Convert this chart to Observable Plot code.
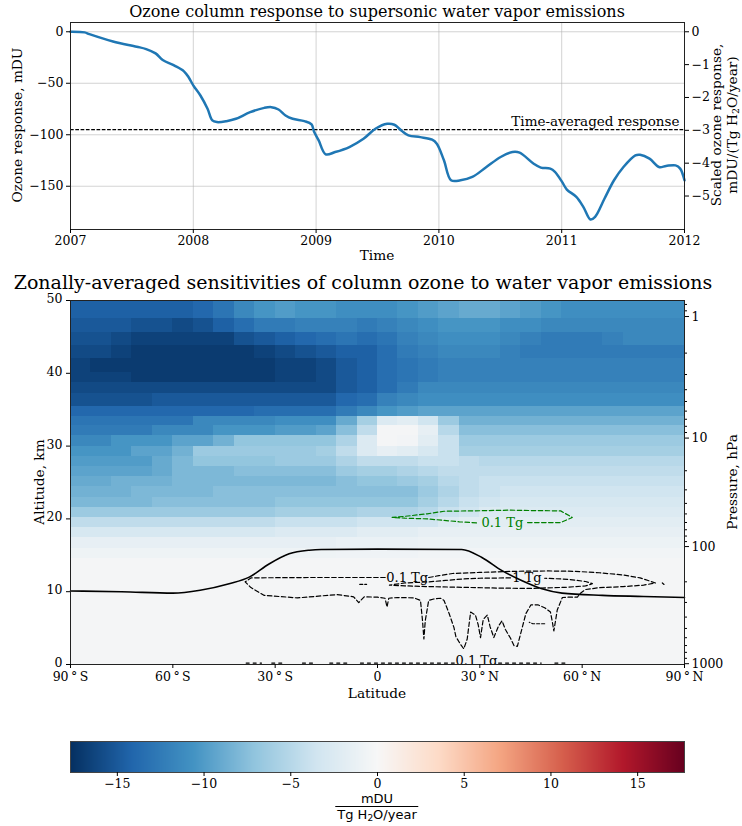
<!DOCTYPE html>
<html><head><meta charset="utf-8">
<script src="https://cdn.jsdelivr.net/npm/d3@7"></script>
<script src="https://cdn.jsdelivr.net/npm/@observablehq/plot@0.6"></script>
<style>
body{margin:0;background:#fff;}
#root{position:relative;width:742px;height:826px;overflow:hidden;font-family:"DejaVu Serif",serif;}
#root svg{position:absolute;left:0;}
</style></head><body><div id="root"></div>
<script>
// ---------------- DATA: top panel ----------------
const years = [2007.000,2007.115,2007.154,2007.346,2007.539,2007.616,2007.693,2007.751,2007.847,2007.924,2007.962,2008.001,2008.058,2008.116,2008.155,2008.193,2008.270,2008.347,2008.463,2008.578,2008.636,2008.694,2008.751,2008.809,2008.905,2008.963,2008.982,2009.021,2009.078,2009.155,2009.271,2009.386,2009.483,2009.579,2009.637,2009.694,2009.752,2009.848,2009.945,2009.983,2010.041,2010.099,2010.176,2010.272,2010.387,2010.503,2010.599,2010.657,2010.772,2010.830,2010.907,2010.945,2011.003,2011.042,2011.119,2011.176,2011.234,2011.272,2011.349,2011.426,2011.503,2011.600,2011.638,2011.715,2011.792,2011.850,2011.927,2011.965,2012.000];
const ozone = [0,-0.6,-2.3,-9.4,-14.5,-16.8,-21.0,-27.4,-32.9,-38.4,-44.2,-52.3,-61.9,-74.8,-86.1,-87.7,-86.8,-84.5,-78.1,-73.9,-73.2,-75.5,-81.3,-84.5,-86.8,-90.0,-96.5,-105.5,-119.0,-116.8,-111.9,-103.9,-94.2,-89.4,-90.3,-95.8,-100.6,-102.3,-104.8,-108.7,-124.8,-144.2,-144.2,-141.0,-131.3,-121.6,-116.8,-117.4,-128.1,-131.9,-132.9,-136.1,-145.8,-153.2,-160.3,-170.0,-182.3,-179.7,-161.9,-144.2,-131.3,-120.0,-119.4,-123.2,-131.3,-130.3,-129.7,-132.9,-144.2];
const timeAveraged = -95;
const emissionScale = 31.9;           // mDU per (Tg H2O/year)
const yearTicks = [2007,2008,2009,2010,2011,2012];
const ozoneTicks = [0,-50,-100,-150];
const scaledTicks = [0,-1,-2,-3,-4,-5];

// ---------------- DATA: sensitivity map ----------------
const latEdges = d3.range(-90, 91, 6);
const altEdges = [50,47.5,45.6,43.8,42.0,40.1,38.8,37.2,35.5,34.1,32.8,31.4,30.0,28.6,27.2,25.8,24.4,23.0,21.6,20.2,18.8,17.4,16.0,14.6,0];
const sens = [
 [-14.5,-14.5,-14.5,-14.5,-14.5,-14.5,-14,-13,-11.5,-10.5,-10,-10.5,-10.5,-11,-11,-11,-10.5,-10,-9.5,-9,-9,-9.5,-10,-10.5,-11,-11,-11,-11,-11,-11],
 [-15,-15,-15,-15.5,-15.5,-16,-15.5,-14.5,-13.5,-12.5,-12.5,-12,-12,-12,-12.5,-12,-11.5,-11,-10.5,-10.5,-10.5,-11,-11,-11.5,-11.5,-11.5,-11.5,-11.5,-11.5,-11.5],
 [-15.5,-15.5,-16,-16.5,-16.5,-16.5,-16.5,-16.5,-15.5,-15,-14.5,-14,-13.5,-13,-13.5,-13,-12,-11.5,-11,-11,-11,-11.5,-12,-12.5,-12.5,-12.5,-12,-11.5,-11.5,-11.5],
 [-16,-16,-16.5,-17,-17,-17,-17,-17,-17,-16.5,-16,-15.5,-15,-14.5,-14.5,-13.5,-12.5,-12,-11.5,-11.5,-11.5,-12,-12.5,-12.5,-12.5,-12.5,-12.5,-12.5,-12.5,-12.5],
 [-16.5,-17,-17,-17,-17,-17,-17,-17,-17,-17,-16.5,-16.5,-16,-15,-14.5,-13.5,-13,-12.5,-12,-12,-12,-12,-12,-12,-12,-12,-12,-12,-12,-12],
 [-16.5,-16.5,-16.5,-17,-17,-17,-17,-17,-17,-17,-16.5,-16.5,-16,-15,-14.5,-13.5,-13,-12.5,-12,-12,-12,-12,-12,-12,-12,-12,-12,-12,-12,-12],
 [-16,-16,-16,-16,-16,-16,-16,-16,-16,-16,-16,-16,-16,-15,-14.5,-13.5,-12.5,-11.5,-11.5,-11.5,-11.5,-11.5,-11.5,-11.5,-11.5,-11.5,-11.5,-11.5,-11.5,-11.5],
 [-15.5,-15.5,-15.5,-15.5,-15,-15,-15,-15,-15,-15,-15,-15,-15,-14,-13.5,-12,-11.5,-11,-11,-11,-11,-11,-11,-11,-11,-11,-11,-11,-11,-11],
 [-14,-14,-14,-14,-14,-14,-14,-14,-14,-13.5,-13.5,-13.5,-13.5,-12.5,-11.5,-10.5,-10,-9.5,-9.5,-9.5,-9.5,-9.5,-9.5,-9.5,-9.5,-9.5,-9.5,-9.5,-9.5,-9.5],
 [-13,-13,-13,-13,-13,-13,-11.5,-11.5,-11.5,-11.5,-11,-11,-11,-9,-6,-2.5,-2,-3.5,-6.5,-8.5,-8.5,-8.5,-8.5,-8.5,-8.5,-8.5,-8.5,-8.5,-8.5,-8.5],
 [-12.5,-12.5,-12.5,-12.5,-11.5,-11.5,-11.5,-10.5,-10.5,-10.5,-10,-10,-9.5,-7.5,-4.5,-0.3,-0.3,-1.5,-5,-7.5,-7.5,-7.5,-7.5,-7.5,-7.5,-7.5,-7.5,-7.5,-7.5,-7.5],
 [-11.5,-11.5,-10.5,-10.5,-10.5,-9.5,-9.5,-8.5,-7,-7,-7,-7,-7,-5.5,-2.5,-0.3,-0.5,-2,-4,-6.5,-6.5,-6.5,-6.5,-6.5,-6.5,-6.5,-6.5,-6.5,-6.5,-6.5],
 [-10.5,-10.5,-10.5,-9.5,-9.5,-8.5,-6.5,-6.5,-6.5,-6.5,-6.5,-6.5,-6,-4.5,-2.5,-1.5,-2,-3,-4,-6,-6,-6,-6,-6,-6,-6,-6,-6,-6,-6],
 [-10,-10,-10,-10,-9,-8,-7,-7,-7,-7,-6.5,-6.5,-6.5,-5.5,-4.5,-4.5,-4.5,-4,-4,-4.5,-5,-5,-5,-5,-5,-5,-5,-5,-5,-5],
 [-9.5,-9.5,-9.5,-9.5,-9,-8,-8,-8,-7.5,-7.5,-7.5,-7.5,-7.5,-6.5,-6,-6,-5.5,-5,-4.5,-4.5,-4.5,-4.5,-4.5,-4.5,-4.5,-4.5,-4.5,-4.5,-4.5,-4.5],
 [-9,-9,-8.5,-8.5,-8.5,-8,-8,-8,-8,-8,-8,-8,-8,-7.5,-7,-7,-6.5,-6,-5,-4.5,-4,-4,-4,-4,-4,-4,-4,-4,-4,-4],
 [-8.5,-8.5,-8.5,-8,-8,-8,-8,-7.5,-7.5,-7.5,-7.5,-7.5,-7.5,-7.5,-7.5,-7.5,-7.5,-6.5,-5.5,-4.5,-4,-3.5,-3.5,-3.5,-3.5,-3.5,-3.5,-3.5,-3.5,-3.5],
 [-8,-8,-8,-8,-7.5,-7.5,-7.5,-7.5,-7.5,-7.5,-7,-7,-7,-7,-7,-7,-7,-6,-5,-4,-3.5,-3,-3,-3,-3,-3,-3,-3,-3,-3],
 [-6.5,-6.5,-6.5,-6.5,-6.5,-6.5,-6.5,-6.5,-6.5,-6.5,-6,-6,-6,-6,-5.5,-5.5,-5.5,-5,-4,-3.5,-2.5,-2.5,-2.5,-2.5,-2.5,-2.5,-2.5,-2.5,-2.5,-2.5],
 [-4.5,-4.5,-4.5,-4.5,-4.5,-4.5,-4.5,-4.5,-4.5,-4.5,-4,-4,-4,-4,-3.5,-3.5,-3.5,-3.5,-2.5,-2,-2,-2,-2,-2,-2,-2,-2,-2,-2,-2],
 [-3,-3,-3,-3,-3,-3,-3,-3,-3,-3,-2.5,-2.5,-2.5,-2.5,-2,-2,-2,-1.5,-1.5,-1.5,-1.5,-1.5,-1.5,-1.5,-1.5,-1.5,-1.5,-1.5,-1.5,-1.5],
 [-1.5,-1.5,-1.5,-1.5,-1.5,-1.5,-1.5,-1.5,-1.5,-1.5,-1.5,-1.5,-1.5,-1.2,-1.2,-1.2,-1.2,-1,-1,-1,-1,-1,-1,-1,-1,-1,-1,-1,-1,-1],
 [-0.8,-0.8,-0.8,-0.8,-0.8,-0.8,-0.8,-0.8,-0.8,-0.8,-0.8,-0.8,-0.8,-0.7,-0.7,-0.7,-0.7,-0.6,-0.6,-0.6,-0.6,-0.6,-0.6,-0.6,-0.6,-0.6,-0.6,-0.6,-0.6,-0.6],
 [-0.3,-0.3,-0.3,-0.3,-0.3,-0.3,-0.3,-0.3,-0.3,-0.3,-0.3,-0.3,-0.3,-0.3,-0.3,-0.3,-0.3,-0.3,-0.3,-0.3,-0.3,-0.3,-0.3,-0.3,-0.3,-0.3,-0.3,-0.3,-0.3,-0.3]
];
// tropopause [lat, alt]
const tropopause = [[-90,10.1],[-75,10.0],[-60,9.8],[-52,10.2],[-43.5,11.1],[-37.6,12.0],[-31.8,13.8],[-25.9,15.2],[-20,15.7],[-16.5,15.8],[0,15.85],[24.7,15.8],[30.6,14.7],[36.5,12.9],[42.4,11.5],[48.2,10.4],[54.1,9.8],[65.9,9.5],[78,9.35],[90,9.2]];
// emission contours [lat, alt]; null = break
const outer01 = [[15,11.95],[18,12.2],[22,12.5],[30,12.65],[40,12.8],[50,12.85],[58,12.8],[65,12.6],[72,12.3],[77,11.9],[81.5,11.2],[78,10.9],[72,10.7],[65,10.55],[61,10.3],[59.5,9.8],[58.6,9.25],[55.6,9.25],[54.2,9.2],[52.7,7.5],[51.7,4.6],[51.2,6.0],[50.7,7.2],[49,7.8],[47,8.2],[45,8.2],[43.5,7.0],[42.5,5.2],[41,2.5],[40,2.6],[39,3.6],[37.5,4.8],[36.5,6.0],[35.5,5.3],[34.1,3.7],[33,5.2],[32.2,6.8],[31,6.2],[30.2,3.7],[29.5,5.5],[28.7,6.8],[27.3,7.2],[26.3,3.5],[25.3,2.15],[24.3,2.8],[23,3.8],[22.4,5.1],[21,7.0],[19.5,8.8],[18.5,9.1],[16.5,9.0],[15,8.8],[14,6.0],[13.6,3.5],[13.2,6.0],[12.6,8.8],[10.7,9.15],[5.8,9.2],[3.3,9.1],[2.8,7.9],[2.2,9.1],[0,9.25],[-3.9,9.3],[-5.5,8.5],[-7,9.3],[-11.8,9.6],[-23.5,9.15],[-33.3,9.5],[-37.2,10.6],[-38.8,11.35],[-37,11.9],[-20,11.95],[-5,11.95],[2.3,11.95]];
const inner1 = [[39,11.9],[30,11.85],[25,11.75],[20,11.55],[15,11.35],[8,11.2],[3.5,10.9],[8,10.8],[15,10.7],[25,10.6],[35,10.5],[45,10.45],[55,10.6],[61,10.8],[63,11.1],[61,11.4],[56,11.7],[49,11.85]];
const smallBits = [[[-5.2,11.0],[-3.2,11.0]],[[49,5.6],[45.5,5.6],[44.5,5.8]],[[83.5,11.2],[84,11.0]]];
const surface01 = [[-38.5,0.2],[-34,0.2],null,[-31,0.2],[-27,0.2],null,[-22,0.2],[-18,0.2],null,[-14,0.2],[-8,0.2],null,[-5,0.2],[22.5,0.2],null,[35.5,0.2],[48,0.2],null,[52,0.2],[55,0.2]];
const green01 = [[44,19.5],[50,19.5],[53.7,19.5],[57.1,20.2],[53.7,21.1],[45,21.15],[39,21.2],[27.3,21.1],[19.5,21.05],[14.6,20.7],[8,20.35],[4.3,20.2],[8,20.1],[14.6,20.0],[19.5,19.8],[24,19.6],[29.2,19.45]];
const contourLabels = [
  {lat: 8.7, alt: 11.95, text: "0.1 Tg", color: "#000"},
  {lat: 43.8, alt: 11.85, text: "1 Tg", color: "#000"},
  {lat: 36.6, alt: 19.5, text: "0.1 Tg", color: "#008000"},
  {lat: 29, alt: 0.45, text: "0.1 Tg", color: "#000"}
];
// pressure axis (standard atmosphere), ascending log-pressure
const stdP = [0.1, 1, 10, 100, 1000];
const stdZ = [64.9, 47.8, 31.1, 16.2, 0.11];
const pMajor = [1000, 100, 10, 1];
const pMinor = [900,800,700,600,500,400,300,200,90,80,70,60,50,40,30,20,9,8,7,6,5,4,3,2,0.9,0.8];
const latTicks = [-90,-60,-30,0,30,60,90];
const altTicks = [0,10,20,30,40,50];
// colour bar
const cbMax = 17.7;
const cbTicks = [-15,-10,-5,0,5,10,15];
const rdbu = ["#053061","#2166ac","#4393c3","#92c5de","#d1e5f0","#f7f7f7","#fddbc7","#f4a582","#d6604d","#b2182b","#67001f"];

// ---------------- RENDER ----------------
const root = document.getElementById("root");
const serif = "DejaVu Serif";
function addSvg(svg, top){ svg.style.top = top + "px"; root.appendChild(svg); }
function label(html, cx, cy, size, rotate = 0, family = serif, color = "#000"){
  const d = document.createElement("div");
  d.style.cssText = `position:absolute;left:${cx}px;top:${cy}px;transform:translate(-50%,-50%) rotate(${rotate}deg);white-space:nowrap;font-family:'${family}';font-size:${size}px;color:${color};line-height:1;`;
  d.innerHTML = html;
  root.appendChild(d);
}
const fmt = d3.format("d");
const colorOpts = {type: "linear", domain: rdbu.map((_, i) => -cbMax + i * 2 * cbMax / 10), range: rdbu, interpolate: "rgb", clamp: true};

// --- top panel
const series = years.map((t, i) => ({t, v: ozone[i]}));
const topPlot = Plot.plot({
  width: 742, height: 268, marginLeft: 70, marginRight: 58, marginTop: 22, marginBottom: 39,
  style: {fontFamily: serif, fontSize: "12.5px", color: "#000", background: "transparent"},
  x: {domain: [2007, 2012]},
  y: {domain: [-192, 9]},
  marks: [
    Plot.gridX(yearTicks, {stroke: "#b0b0b0", strokeOpacity: 0.7, strokeWidth: 0.8}),
    Plot.gridY(ozoneTicks, {stroke: "#b0b0b0", strokeOpacity: 0.7, strokeWidth: 0.8}),
    Plot.ruleY([timeAveraged], {stroke: "#000", strokeWidth: 1.1, strokeDasharray: "3.7,1.6"}),
    Plot.text(["Time-averaged response"], {x: 2012, y: timeAveraged, textAnchor: "end", dx: -5, dy: -8, fontSize: 13.5, fontFamily: serif}),
    Plot.line(series, {x: "t", y: "v", stroke: "#1f77b4", strokeWidth: 2.5, curve: "catmull-rom"}),
    Plot.frame({stroke: "#222", strokeWidth: 1}),
    Plot.axisX(yearTicks, {tickFormat: d => String(d), tickSize: 4, tickPadding: 3, label: null}),
    Plot.axisY(ozoneTicks, {anchor: "left", tickFormat: fmt, tickSize: 4, tickPadding: 3, label: null}),
    Plot.axisY(scaledTicks.map(s => s * emissionScale), {anchor: "right", tickFormat: d => fmt(Math.round(d / emissionScale)), tickSize: 4, tickPadding: 3, label: null})
  ]
});
addSvg(topPlot, 0);
label("Ozone column response to supersonic water vapor emissions", 377, 12, 16);
label("Time", 377, 256, 13.7);
label("Ozone response, mDU", 18, 125, 13.7, -90);
label("Scaled ozone response,", 717, 125, 13.7, -90);
label("mDU/(Tg H<sub style='font-size:9.5px;line-height:0;vertical-align:-2px;'>2</sub>O/year)", 733, 125, 13.7, -90);

// --- sensitivity map
const cells = [];
sens.forEach((row, r) => row.forEach((v, c) => cells.push({x1: latEdges[c], x2: latEdges[c + 1], y1: altEdges[r + 1], y2: altEdges[r], v})));
const logPToAlt = d3.scaleLinear().domain(stdP.map(Math.log10)).range(stdZ);
const pToAlt = p => logPToAlt(Math.log10(p));
const px = d => d ? d[0] : NaN, py = d => d ? d[1] : NaN;
const latFmt = v => v === 0 ? "0" : (Math.abs(v) + "\u2009°\u2009" + (v < 0 ? "S" : "N"));
const mapPlot = Plot.plot({
  width: 742, height: 430, marginLeft: 70, marginRight: 58, marginTop: 30, marginBottom: 36,
  style: {fontFamily: serif, fontSize: "12.5px", color: "#000", background: "transparent"},
  x: {domain: [-90, 90]},
  y: {domain: [0, 50]},
  color: colorOpts,
  marks: [
    Plot.rect(cells, {x1: "x1", x2: "x2", y1: "y1", y2: "y2", fill: "v", shapeRendering: "crispEdges"}),
    Plot.line(tropopause, {x: px, y: py, stroke: "#000", strokeWidth: 1.6, curve: "monotone-x"}),
    Plot.line(outer01, {x: px, y: py, stroke: "#000", strokeWidth: 1.2, strokeDasharray: "4.5,2.5"}),
    Plot.line(inner1, {x: px, y: py, stroke: "#000", strokeWidth: 1.2, strokeDasharray: "4.5,2.5"}),
    ...smallBits.map(b => Plot.line(b, {x: px, y: py, stroke: "#000", strokeWidth: 1.2, strokeDasharray: "3,2"})),
    Plot.line(surface01, {x: px, y: py, stroke: "#000", strokeWidth: 1.2, strokeDasharray: "3,4"}),
    Plot.line(green01, {x: px, y: py, stroke: "#008000", strokeWidth: 1.2, strokeDasharray: "4.5,2.5"}),
    Plot.text(contourLabels, {x: "lat", y: "alt", text: "text", fill: "color", fontSize: 13, fontFamily: serif, clip: true}),
    Plot.frame({stroke: "#222", strokeWidth: 1}),
    Plot.axisX(latTicks, {tickFormat: latFmt, tickSize: 4, tickPadding: 3.5, label: null}),
    Plot.axisY(altTicks, {anchor: "left", text: null, tickSize: 4, label: null}),
    Plot.axisY(altTicks, {anchor: "left", tickFormat: fmt, tickSize: 0, tickPadding: 8, dy: -1.5, label: null}),
    Plot.axisY(pMajor.map(pToAlt), {anchor: "right", tickFormat: (d, i) => String(pMajor[i]), tickSize: 4, tickPadding: 3, label: null}),
    Plot.axisY(pMinor.map(pToAlt), {anchor: "right", text: null, tickSize: 2, label: null})
  ]
});
addSvg(mapPlot, 270);
label("Zonally-averaged sensitivities of column ozone to water vapor emissions", 363, 281.5, 19);
label("Latitude", 377, 694, 13.7);
label("Altitude, km", 40, 482, 13.7, -90);
label("Pressure, hPa", 733, 482, 13.7, -90);

// --- colour bar
const cbPlot = Plot.plot({
  width: 742, height: 70, marginLeft: 70, marginRight: 58, marginTop: 11, marginBottom: 28,
  style: {fontFamily: serif, fontSize: "12.5px", color: "#000", background: "transparent"},
  x: {domain: [-cbMax, cbMax]},
  y: {domain: [0, 1], axis: null},
  color: colorOpts,
  marks: [
    Plot.raster({x1: -cbMax, x2: cbMax, y1: 0, y2: 1, width: 614, height: 1, fill: (x, y) => x}),
    Plot.frame({stroke: "#444", strokeWidth: 1}),
    Plot.axisX(cbTicks, {tickFormat: fmt, tickSize: 4, tickPadding: 3, label: null})
  ]
});
addSvg(cbPlot, 730);
const frac = document.createElement("div");
frac.style.cssText = "position:absolute;left:377px;top:792px;transform:translateX(-50%);font-family:'DejaVu Sans';font-size:13px;text-align:center;line-height:14px;";
frac.innerHTML = "<div>mDU</div><div style='border-top:1px solid #000;padding:1px 2px 0;'>Tg H<sub style=\"font-size:9px;line-height:0;vertical-align:-2px;\">2</sub>O/year</div>";
root.appendChild(frac);
</script>
</body></html>
